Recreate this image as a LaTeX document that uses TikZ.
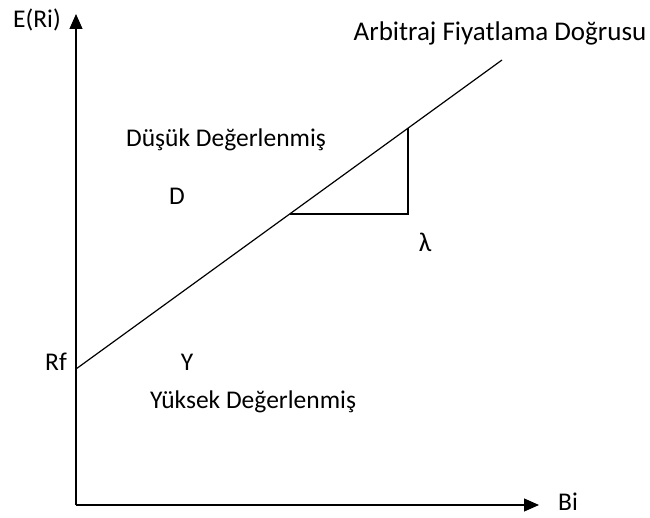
\documentclass[tikz,border=0pt]{standalone}
\usepackage{fontspec}
\setmainfont{Carlito}
\usetikzlibrary{arrows.meta}
\begin{document}
\begin{tikzpicture}[x=1pt,y=-1pt,
  lbl/.style={inner sep=0pt, font=\fontsize{25.5}{30}\selectfont},
  biglbl/.style={inner sep=0pt, font=\fontsize{27}{32}\selectfont},
  axisline/.style={line width=1.2pt, -{Triangle[length=15pt,width=13pt]}},
  plainline/.style={line width=1.2pt}]
\useasboundingbox (0,0) rectangle (650,518);
\coordinate (O) at (76,505);
\coordinate (Ytip) at (76,14);
\coordinate (Xtip) at (539,505);
\coordinate (Rf) at (76,369);
\coordinate (Lend) at (502,60);
\coordinate (T1) at (289.7,214);
\coordinate (T2) at (408,214);
\coordinate (T3) at (408,128.2);
\draw[axisline] (O) -- (Ytip);
\draw[axisline] (O) -- (Xtip);
\draw[plainline] (Rf) -- (Lend);
\draw[plainline] (T1) -- (T2) -- (T3);
\node[lbl] (eri) at (37,20) {E(Ri)};
\node[biglbl] (apl) at (500,33) {Arbitraj Fiyatlama Doğrusu};
\node[lbl] (dusuk) at (226,140) {Düşük Değerlenmiş};
\node[lbl] (d) at (177,196) {D};
\node[biglbl] (lam) at (425,242) {λ};
\node[lbl] (rf) at (56,362) {Rf};
\node[lbl] (y) at (187,362) {Y};
\node[lbl] (yuksek) at (253,402) {Yüksek Değerlenmiş};
\node[lbl] (bi) at (568,502) {Bi};
\end{tikzpicture}
\end{document}
